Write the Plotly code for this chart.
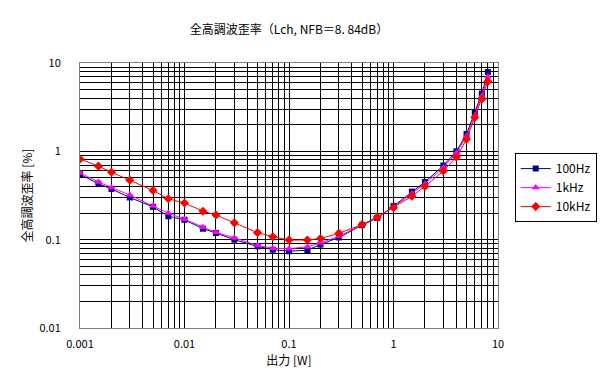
import plotly.graph_objects as go

power_w = [0.001, 0.0015, 0.002, 0.003, 0.005, 0.007, 0.01, 0.015, 0.02, 0.03, 0.05, 0.07,
           0.1, 0.15, 0.2, 0.3, 0.5, 0.7, 1, 1.5, 2, 3, 4, 5, 6, 7, 8]

thd_100hz = [0.55, 0.43, 0.375, 0.30, 0.235, 0.184, 0.168, 0.133, 0.119, 0.100, 0.084, 0.077,
             0.074, 0.076, 0.088, 0.106, 0.146, 0.176, 0.24, 0.35, 0.45, 0.69, 1.0, 1.57, 2.73, 4.5, 7.9]
thd_1khz = [0.57, 0.45, 0.39, 0.32, 0.24, 0.20, 0.17, 0.138, 0.121, 0.105, 0.086, 0.080,
            0.079, 0.083, 0.092, 0.109, 0.148, 0.18, 0.233, 0.33, 0.43, 0.65, 0.96, 1.48, 2.55, 4.2, 7.0]
thd_10khz = [0.82, 0.68, 0.58, 0.47, 0.36, 0.29, 0.26, 0.21, 0.19, 0.155, 0.12, 0.108,
             0.099, 0.099, 0.103, 0.118, 0.148, 0.18, 0.23, 0.31, 0.40, 0.60, 0.86, 1.37, 2.42, 3.9, 6.2]

x_tick_vals = [0.001, 0.01, 0.1, 1, 10]
x_tick_text = ["0.001", "0.01", "0.1", "1", "10"]
y_tick_vals = [0.01, 0.1, 1, 10]
y_tick_text = ["0.01", "0.1", "1", "10"]

FONT = "Noto Sans CJK JP"

fig = go.Figure()
series = [
    ("100Hz", thd_100hz, "#000080", "square", 6),
    ("1kHz", thd_1khz, "#FF00FF", "triangle-up", 7),
    ("10kHz", thd_10khz, "#FF0000", "diamond", 7),
]
for name, vals, col, sym, sz in series:
    fig.add_trace(go.Scatter(
        x=power_w, y=vals, name=name, mode="lines+markers",
        line=dict(color=col, width=1),
        marker=dict(color=col, symbol=sym, size=sz, line=dict(width=0)),
    ))

axis_common = dict(
    type="log", showgrid=True, gridcolor="black", gridwidth=1,
    showline=True, linecolor="#808080", linewidth=1, mirror=True,
    ticks="", zeroline=False,
    tickfont=dict(family=FONT, size=11, color="black"),
    minor=dict(dtick="D1", showgrid=True, gridcolor="black", gridwidth=1, ticks=""),
)

fig.update_xaxes(range=[-3, 1], tickvals=x_tick_vals, ticktext=x_tick_text,
                 ticklabelstandoff=6,
                 title=dict(text="出力 [W]", font=dict(family=FONT, size=12, color="black"), standoff=3),
                 **axis_common)
fig.update_yaxes(range=[-2, 1], tickvals=y_tick_vals, ticktext=y_tick_text,
                 ticklabelstandoff=16,
                 title=dict(text="全高調波歪率 [%]", font=dict(family=FONT, size=12, color="black"), standoff=4),
                 **axis_common)

fig.update_layout(
    width=608, height=382,
    margin=dict(l=72, r=118, t=55, b=62),
    paper_bgcolor="white", plot_bgcolor="white",
    title=dict(text="全高調波歪率（Lch, NFB＝8. 84dB）", x=0.5, xref="paper", xanchor="center",
               y=1 - 22 / 382, yref="container", yanchor="middle",
               font=dict(family=FONT, size=12, color="black")),
    showlegend=True,
    legend=dict(x=1.04, y=0.66, xanchor="left", yanchor="top",
                bordercolor="black", borderwidth=1, bgcolor="white",
                font=dict(family=FONT, size=12, color="black"),
                tracegroupgap=0, itemwidth=30),
    font=dict(family=FONT, color="black"),
)

fig.write_html("out.html")
